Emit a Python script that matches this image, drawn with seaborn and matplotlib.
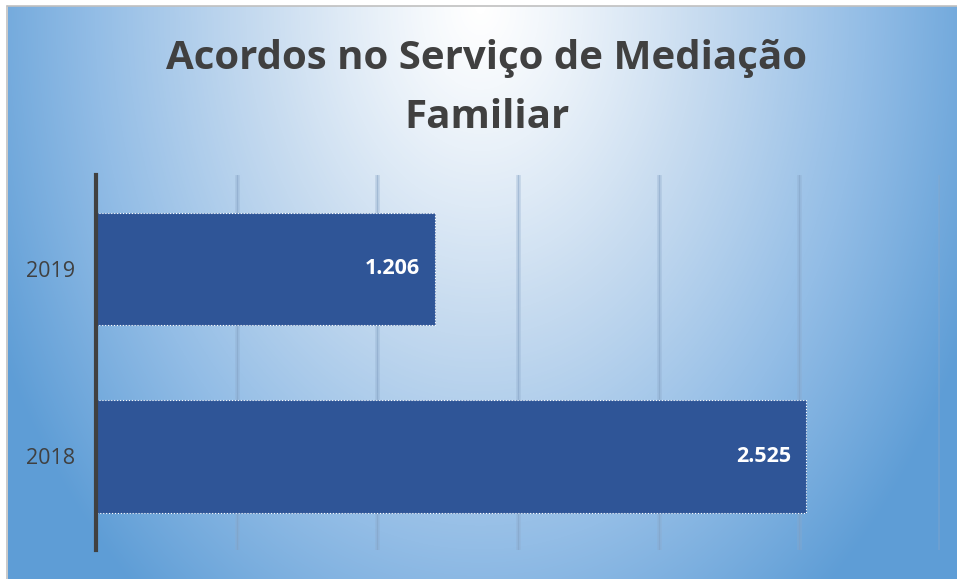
import numpy as np
import pandas as pd
import matplotlib.pyplot as plt
import seaborn as sns
from matplotlib.colors import LinearSegmentedColormap

# chart values
years = ['2019', '2018']
acordos = [1206, 2525]
x_ticks = [500, 1000, 1500, 2000, 2500, 3000]

sns.set_theme(style="white")
plt.rcParams['font.family'] = ['Open Sans', 'DejaVu Sans']

data = pd.DataFrame({'ano': years, 'acordos': acordos})

fig = plt.figure(figsize=(9.57, 5.79), dpi=100)
fig.patch.set_facecolor('white')

# background gradient (white near top centre, blue towards edges)
bg = fig.add_axes([8 / 957, 0, 949 / 957, 573 / 579], zorder=0)
h, w = 573, 949
yy, xx = np.mgrid[0:h, 0:w]
d = np.sqrt(((xx - 472) / 540.0) ** 2 + ((yy - 0) / 760.0) ** 2)
t = np.clip(d, 0, 1) ** 1.2
cmap = LinearSegmentedColormap.from_list('bg', ['#ffffff', '#c8dcf0', '#93bde6', '#5e9dd6'])
bg.imshow(t, cmap=cmap, vmin=0, vmax=1, aspect='auto', interpolation='bilinear')
bg.set_axis_off()
fig.add_artist(plt.Line2D([7.5 / 957, 7.5 / 957], [0, 573.5 / 579], color='#c0c0c0', lw=1.2))
fig.add_artist(plt.Line2D([7.5 / 957, 1], [573.5 / 579, 573.5 / 579], color='#c0c0c0', lw=1.2))

ax = fig.add_axes([96 / 957, 29 / 579, 844 / 957, 375 / 579], zorder=1)
ax.patch.set_alpha(0)

sns.barplot(data=data, x='acordos', y='ano', orient='h', color='#2f5597', width=0.6,
            saturation=1, edgecolor='white', linewidth=0.8, linestyle=':', ax=ax, zorder=3)

ax.set_xlim(0, 3000)
ax.set_ylim(1.5, -0.5)
for xv in x_ticks:
    ax.axvline(xv, color='#8eaacb', lw=3.5, alpha=0.3, zorder=1)
    ax.axvline(xv, color='#7f9dbf', lw=1.0, alpha=0.45, zorder=1)

for spine in ['top', 'right', 'bottom']:
    ax.spines[spine].set_visible(False)
ax.spines['left'].set_color('#404040')
ax.spines['left'].set_linewidth(3)
ax.spines['left'].set_zorder(4)

ax.set_xticks([])
ax.set_xlabel('')
ax.set_ylabel('')
ax.tick_params(axis='y', length=0, pad=15, labelsize=15.5, labelcolor='#404040')

for i, v in enumerate(acordos):
    ax.annotate(f'{v:,}'.replace(',', '.'), xy=(v, i), xytext=(-11, 0), textcoords='offset points',
                ha='right', va='center', color='white', fontsize=15.5, fontweight='bold', zorder=5)

fig.text(487 / 957, 1 - 59 / 579, 'Acordos no Serviço de Mediação', ha='center', va='center',
         fontsize=29, fontweight='bold', color='#404040')
fig.text(487 / 957, 1 - 117 / 579, 'Familiar', ha='center', va='center',
         fontsize=29, fontweight='bold', color='#404040')

fig.savefig('out.png', dpi=100)
